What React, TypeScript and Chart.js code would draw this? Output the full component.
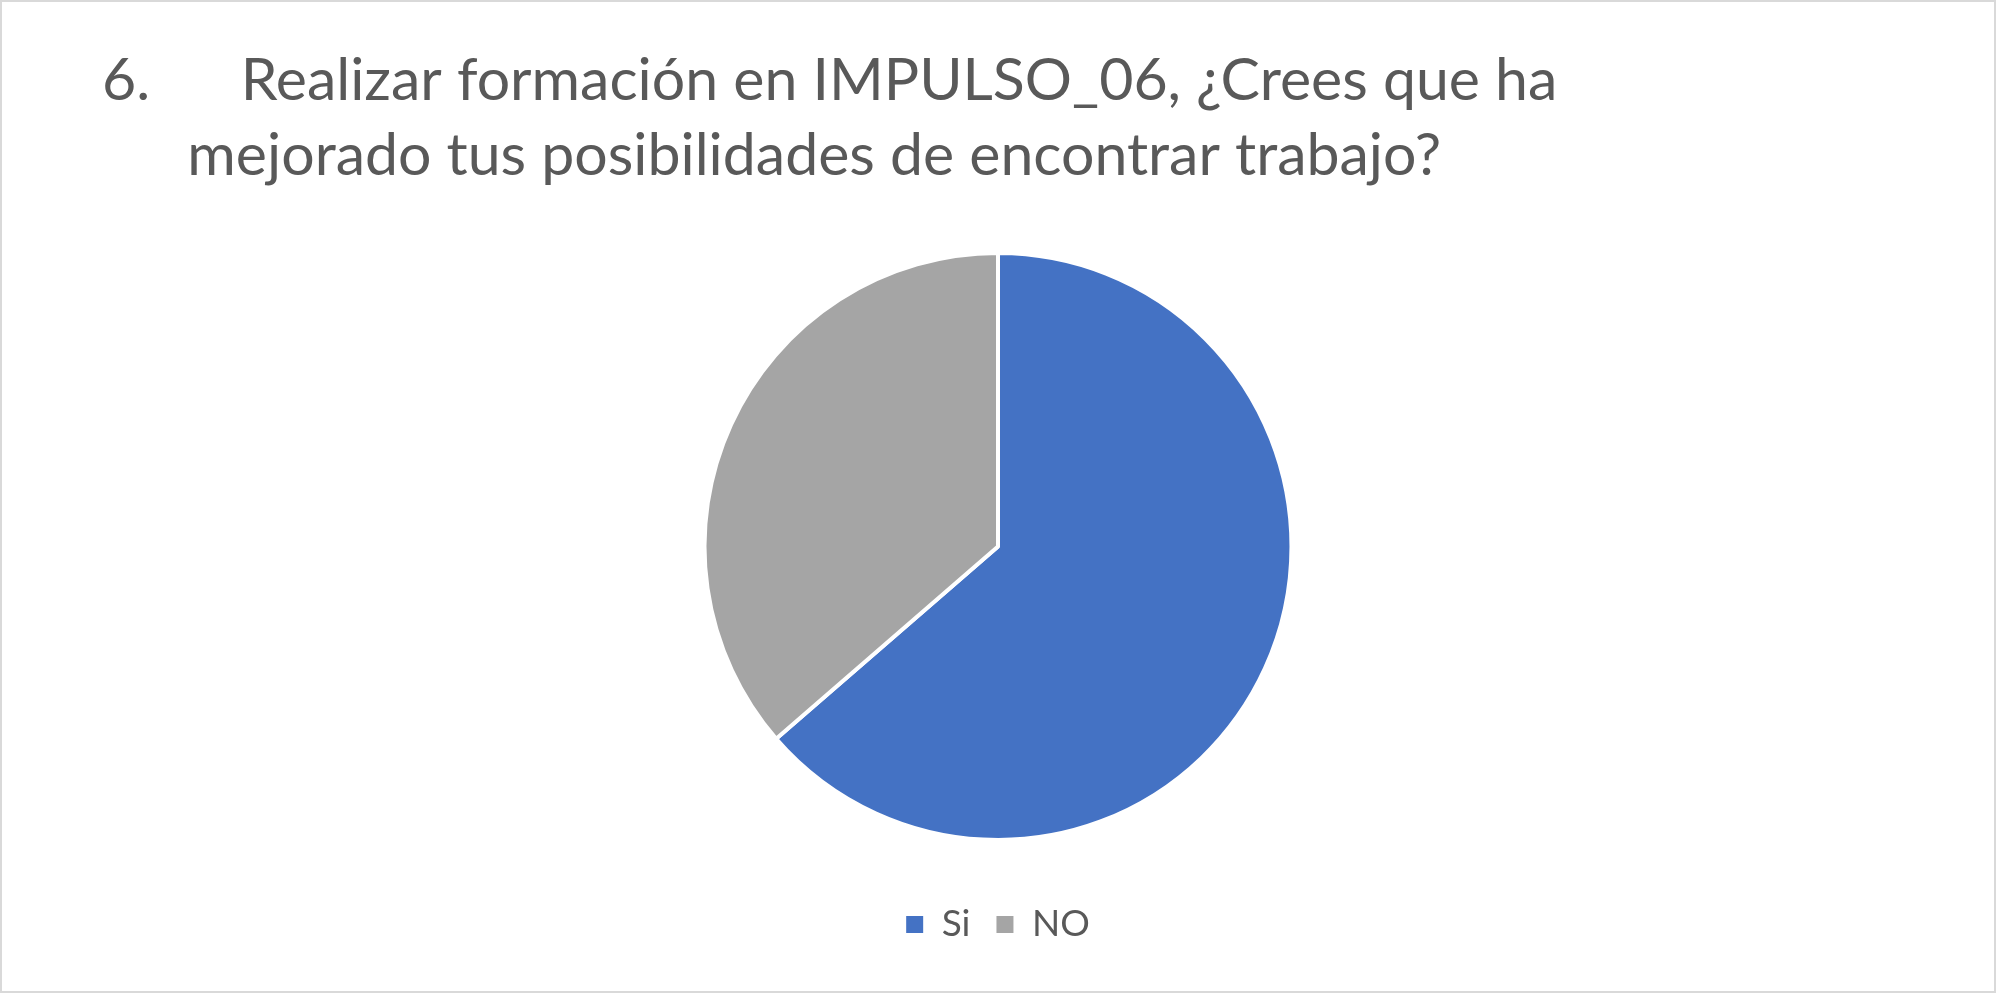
import React, { useEffect, useRef } from "react";
import Chart from "chart.js/auto";

// datos
const categories = ["Si", "NO"];
const answers = [7, 4];
const sliceColors = ["#4472C4", "#A5A5A5"];
const titleLines = [
  "6.      Realizar formación en IMPULSO_06, ¿Crees que ha",
  "     \u2006mejorado tus posibilidades de encontrar trabajo?",
];

const FONT = "Lato, 'Open Sans', sans-serif";
const TEXT = "#595959";

const PieChart = () => {
  const chartRef = useRef<HTMLCanvasElement | null>(null);

  useEffect(() => {
    if (!chartRef.current) return;

    const myChart = new Chart(chartRef.current, {
      type: "pie",
      data: {
        labels: categories,
        datasets: [
          {
            data: answers,
            backgroundColor: sliceColors,
            borderColor: "#ffffff",
            borderWidth: 4,
          },
        ],
      },
      options: {
        animation: false,
        responsive: true,
        maintainAspectRatio: false,
        layout: { padding: { left: 100, right: 100, top: 0, bottom: 38 } },
        plugins: {
          title: {
            display: true,
            text: titleLines,
            align: "start",
            color: TEXT,
            font: { family: FONT, size: 59, weight: "normal", lineHeight: 1.28 },
            padding: { top: 41, bottom: 57 },
          },
          legend: {
            position: "bottom",
            // título vacío solo para dejar hueco entre la tarta y la leyenda
            title: { display: true, text: "", font: { size: 10 }, padding: { top: 0, bottom: 26 } },
            labels: {
              color: TEXT,
              font: { family: FONT, size: 37 },
              boxWidth: 17,
              boxHeight: 17,
              padding: 26,
              generateLabels: (chart: Chart) =>
                Chart.overrides.pie.plugins.legend.labels
                  .generateLabels(chart)
                  .map((l: any) => ({ ...l, lineWidth: 0 })),
            },
          },
          tooltip: { enabled: false },
        },
      },
    });

    return () => {
      myChart.destroy();
    };
  }, []);

  return <canvas ref={chartRef} />;
};

export default function App() {
  return (
    <div
      style={{
        position: "fixed",
        left: 0,
        top: 0,
        width: 1996,
        height: 993,
        boxSizing: "border-box",
        border: "2px solid #d9d9d9",
        background: "#ffffff",
      }}
    >
      <PieChart />
    </div>
  );
}
